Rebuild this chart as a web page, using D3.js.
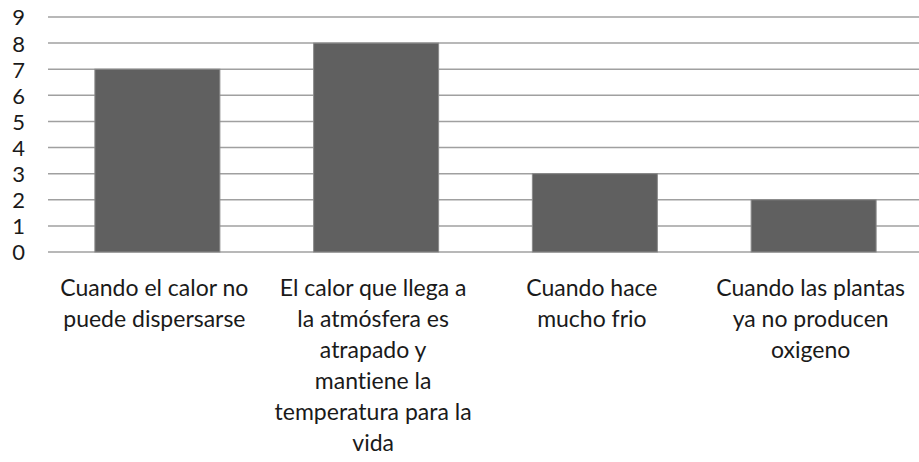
<!DOCTYPE html>
<html>
<head>
<meta charset="utf-8">
<script src="https://cdn.jsdelivr.net/npm/d3@7"></script>
<style>
  html, body { margin: 0; padding: 0; background: #fff; }
  svg { display: block; }
  text { font-family: Lato, "Open Sans", sans-serif; fill: #1a1a1a; font-variant-ligatures: none; }
</style>
</head>
<body>
<svg id="chart" width="919" height="462"></svg>
<script>
const categories = [
  "Cuando el calor no\npuede dispersarse",
  "El calor que llega a\nla atmósfera es\natrapado y\nmantiene la\ntemperatura para la\nvida",
  "Cuando hace\nmucho frio",
  "Cuando las plantas\nya no producen\noxigeno"
];
const values = [7, 8, 3, 2];
const yTicks = [0, 1, 2, 3, 4, 5, 6, 7, 8, 9];

(function () {
const svg = d3.select("#chart");
const plotLeft = 48, plotRight = 923, plotTop = 17, plotBottom = 252;

const x = d3.scaleBand()
  .domain(d3.range(categories.length))
  .range([plotLeft, plotRight])
  .paddingInner(0.4286)
  .paddingOuter(0.2143);

const y = d3.scaleLinear().domain([0, 9]).range([plotBottom, plotTop]);

// gridlines
svg.append("g")
  .selectAll("line")
  .data(yTicks)
  .join("line")
  .attr("x1", plotLeft)
  .attr("x2", 919)
  .attr("y1", d => y(d))
  .attr("y2", d => y(d))
  .attr("stroke", "#a0a0a0")
  .attr("stroke-width", 1.5);

// y axis labels
const yAxis = d3.axisLeft(y).tickValues(yTicks).tickSize(0).tickPadding(0);
const gy = svg.append("g").attr("transform", "translate(25,0)").call(yAxis);
gy.select(".domain").remove();
gy.selectAll("text")
  .attr("font-size", 22)
  .attr("font-family", "Lato, 'Open Sans', sans-serif")
  .attr("fill", "#1a1a1a")
  .attr("dy", "0.36em");

// bars
svg.append("g")
  .selectAll("rect")
  .data(values)
  .join("rect")
  .attr("x", (d, i) => x(i))
  .attr("width", x.bandwidth())
  .attr("y", d => y(d))
  .attr("height", d => y(0) - y(d))
  .attr("fill", "#606060")
  .attr("stroke", "#8a8a8a")
  .attr("stroke-width", 1);

// category labels
const lab = svg.append("g");
categories.forEach((c, i) => {
  const cx = x(i) + x.bandwidth() / 2 - 3;
  const t = lab.append("text")
    .attr("text-anchor", "middle")
    .attr("font-size", 23)
    .attr("x", cx)
    .attr("y", 296);
  c.split("\n").forEach((line, k) => {
    t.append("tspan")
      .attr("x", cx)
      .attr("y", 296 + k * 31)
      .text(line);
  });
});
})();
</script>
</body>
</html>
